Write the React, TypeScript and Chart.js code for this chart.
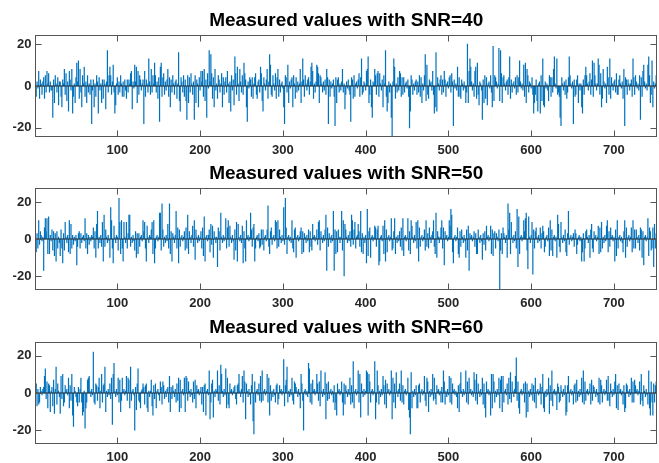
import React, { useEffect, useRef } from "react";
import { Chart, registerables } from "chart.js";

Chart.register(...registerables);

const titles = [
  "Measured values with SNR=40",
  "Measured values with SNR=50",
  "Measured values with SNR=60",
];
const xTickValues = [100, 200, 300, 400, 500, 600, 700];
const yTickValues = [-20, 0, 20];
const yLimits = [24.4, 27.6, 27.5];

const snr40 = [
  3, -5, 2, -1, 7, -6, 3, 1, -4, 2,
  4, -6, 5, -3, 7, 1, 6, -3, 2, -2,
  -2, -15, 3, -8, 5, 1, -3, 4, -9, 2,
  2, -5, -10, 3, 1, 8, -4, 6, -7, 2,
  -12, 7, 3, -2, 8, -13, -5, 1, -8, 4,
  11, 2, 12, -6, 8, -3, -10, 5, 1, 9,
  -5, 2, -8, 5, -3, 1, -4, 3, -18, -2,
  3, -10, 1, -5, 5, 2, -13, 4, -2, 1,
  -8, 3, -6, 3, 1, -11, 2, 17, -3, 5,
  9, 5, -4, 2, 10, -3, -13, -9, 1, 4,
  -4, 2, -3, 5, 1, -5, 2, -5, 3, -2,
  -6, 3, -3, 3, 1, 6, 7, -11, 2, -1,
  10, 2, 9, -8, 7, -4, 5, 3, -2, 1,
  3, -18, 7, -5, 3, 1, -3, 13, 2, -4,
  8, -3, 5, 1, 11, 5, -3, 2, -6, 4,
  -17, 9, 11, -5, 4, 6, -4, 2, -2, 3,
  8, -5, 4, -10, 3, -3, 5, 1, -4, 2,
  3, -6, 1, 16, -7, -12, 4, 2, -3, 5,
  -5, 3, -7, -16, 5, -8, 4, -3, 6, 1,
  -4, 2, -16, 5, -8, 3, 1, -10, 4, -2,
  7, 2, 7, -5, 8, -7, 3, -15, 6, -1,
  17, 2, 15, 6, -6, 4, -10, 8, -2, 1,
  -6, 5, 3, -3, 1, 6, -10, 4, -4, 2,
  4, -3, 7, 1, -8, 2, -12, 5, -2, 3,
  -9, 14, 6, -4, 9, 1, -7, 8, 2, -3,
  5, -4, 11, 6, 3, -10, -17, 2, -1, 4,
  3, -5, 4, -6, 1, 4, 6, -4, -6, 2,
  3, -3, 9, 6, -7, -12, 4, 1, -2, 3,
  8, -6, 2, 15, 10, -4, -5, 5, 1, -2,
  6, -6, 4, 8, -5, 3, -3, 1, 2, -1,
  -10, -18, 5, 4, -3, 10, -8, 2, -1, 3,
  4, -10, 5, 1, -6, 4, -3, 2, -2, 1,
  8, -8, 2, 13, 3, -5, 5, 1, -2, 3,
  4, -4, 2, 9, 11, 7, -6, 1, -3, 2,
  10, 9, 6, -8, 5, 4, 1, -3, 2, -2,
  3, -4, 8, 4, -18, 3, -5, 2, -1, 1,
  3, -5, -19, 4, -8, 3, 4, -3, 1, -2,
  2, 8, -3, 1, -11, -4, 2, -1, 3, -2,
  -4, -17, 4, 3, -6, 5, -5, 1, 2, -1,
  3, 6, -5, 4, 13, -4, -3, 2, 1, -2,
  7, 8, 14, -8, -4, 3, -10, -15, 2, 1,
  8, 5, -4, 6, 7, -5, 6, 1, -2, 3,
  -10, 5, 1, 17, -5, -12, -8, 2, -3, 1,
  -15, -24.4, 2, 13, 9, -6, 1, -3, 4, -2,
  7, 6, -5, 4, -4, 4, -3, 1, 2, -1,
  3, -5, -20, -12, 5, 3, -4, 1, -2, 2,
  3, -4, 2, -3, 5, -5, 4, -8, 1, -2,
  5, 15, -7, 10, -4, -6, 3, 1, 2, -2,
  7, -4, -13, -10, 16, -12, 4, 1, -2, 3,
  5, -4, 3, -3, 7, 3, -5, 1, 2, -1,
  4, 5, -3, 6, 2, -19, 3, -1, 1, -2,
  9, -5, 4, -5, -6, 3, 1, -2, 2, -1,
  -8, -3, 20, -8, 7, 13, 9, 2, -2, 1,
  -5, 7, 9, -6, 11, -4, -9, 2, 1, -2,
  -16, 3, -8, 5, -6, 4, -9, 1, 2, -1,
  5, -3, -10, 19, -7, 5, 4, 2, -1, 1,
  18, -7, 17, 6, -8, 4, 5, 1, -2, 2,
  3, -4, 4, 14, -6, 3, -3, 1, 2, -1,
  4, -4, 5, -3, 4, 12, 2, -1, 1, -2,
  10, -5, 11, -8, 8, 5, -3, 2, 1, -1,
  4, -4, -13, -8, -4, 3, -7, -12, 1, 2,
  -13, 5, -7, 13, -9, -10, 2, -1, 1, -2,
  -7, 5, 4, -5, 4, -3, 8, 14, 1, -1,
  13, -4, -3, -5, -15, -19, 4, 1, -2, 2,
  -4, 3, -6, -3, 4, 14, 5, 1, -1, 2,
  -18, 3, -5, -4, 3, 5, -8, 1, -2, 1,
  -10, -13, 3, -4, 5, 9, 5, 1, -2, 2,
  6, -4, 3, 12, -5, 11, 5, 1, -2, 1,
  13, 10, -4, 6, -10, -6, 8, 2, -1, 1,
  -8, 9, 4, -4, 13, -6, 4, 1, -2, 2,
  3, -3, 6, -4, -4, 3, 5, 1, -1, 2,
  -6, 8, -19, 4, 3, -4, 3, 1, -2, 1,
  3, -5, 13, 4, -4, 5, 2, -1, 1, -2,
  5, -16, 4, -5, 7, 10, 2, -1, 1, -2,
  10, 14, 5, -8, -4, 12, -10, 2, -1, 1,
  5, -7,
];

const snr50 = [
  -10, -7, 3, -5, 10, -3, 4, 2, -1, 1,
  -17, 6, 11, 4, 11, -8, 12, -8, 2, -1,
  5, -6, 4, -9, 3, -12, 4, -5, 1, -2,
  -9, 5, -5, -13, 3, -6, 9, 1, -2, 2,
  -7, 10, -8, 8, -5, 2, -3, 1, -1, 2,
  -14, -4, 3, 4, -5, 3, -2, 1, 2, -1,
  11, -5, 3, -8, 2, -3, 1, -1, 2, 1,
  6, -5, 4, -10, 8, 15, -5, 1, -2, 2,
  -4, 9, -12, 13, -4, 5, 1, -2, 2, -1,
  -10, 17, 10, -5, -13, 7, 1, -2, 2, 1,
  -6, 22, 9, -8, 10, -5, -12, 9, 1, -2,
  9, -5, 3, 13, 13, -4, 1, -2, 2, -1,
  -6, 4, -10, 3, -8, 3, -4, 1, 2, -1,
  10, 4, 9, -5, -12, 7, 1, -2, 2, 1,
  5, 9, -8, 10, -13, -5, 1, 2, -1, 1,
  14, 14, -6, 19, 5, -4, 1, -2, 2, -1,
  8, -5, 19, -8, 4, -12, 3, 1, -2, 2,
  15, -5, 6, -13, 5, -4, 1, 2, -1, 1,
  4, -6, 6, -5, 13, -8, 4, 1, -2, 2,
  7, -4, 10, -11, 5, 1, -2, 2, -1, 1,
  4, -5, 6, -9, 12, -12, 1, 2, -1, 2,
  5, -7, 8, -3, 7, -10, 4, 1, -2, 1,
  -15, 6, 4, -6, 14, 1, -2, 2, -1, 1,
  11, -5, 6, 10, -4, 7, 1, -2, 2, -1,
  -11, 5, -6, 9, -12, 8, 1, -1, 2, -2,
  7, -13, 4, -5, -12, 10, 1, 2, -1, 1,
  14, 5, -4, 6, 8, -12, -5, 1, 2, -1,
  3, -5, -4, 5, -3, 5, -6, 1, 2, -1,
  5, 18, -4, -8, 4, 6, -3, 1, 2, -1,
  10, 9, -5, 10, -4, 5, 1, -2, 2, -1,
  17, -3, 22, 6, -8, 1, 2, -1, 1, -2,
  10, -5, -7, 5, 6, -10, 1, 2, -1, 1,
  4, 6, -8, 4, -7, 3, 1, -2, 2, -1,
  5, -7, 4, -4, -6, 8, 1, 2, -1, 1,
  5, -3, 9, 10, -6, 4, 1, -2, 2, -1,
  5, 13, -17, 6, -4, 3, 1, -2, 2, -1,
  15, -17, 5, -8, 4, -7, 5, 1, -2, 1,
  15, -6, 10, -20, 8, 5, 1, -2, 2, -1,
  4, -4, 13, 10, -3, 5, 9, -5, 1, 2,
  8, 4, -4, 15, -7, 3, -8, 1, -2, 2,
  -13, 16, -9, 4, 6, -10, 1, 2, -1, 1,
  7, 6, -4, 5, 7, -14, -12, 1, 2, -1,
  7, -8, 10, -12, 5, -7, 1, 2, -1, 1,
  11, -6, -5, 4, 11, -8, 1, -2, 2, -1,
  4, -4, 6, -6, 11, -9, 1, 2, -1, 1,
  11, -6, 4, -8, 10, 7, 1, -2, 2, -1,
  9, -5, 10, -12, 6, -4, 1, 2, -1, 1,
  5, -6, 10, -4, 3, -5, 6, 1, -2, 2,
  4, 10, -4, -8, 14, -10, 4, 1, -2, 1,
  6, 10, -5, 6, -14, 4, 1, 2, -1, 1,
  10, 7, 16, 13, -7, -13, 1, 2, -1, 1,
  6, -8, -10, 4, -4, 5, 1, -2, 2, -1,
  -10, 5, -6, 7, -17, 3, 1, 2, -1, 1,
  4, -4, 3, -8, -8, 5, 1, -2, 2, -1,
  -11, 3, -3, 4, -6, 7, 1, 2, -1, 1,
  7, -8, 5, -9, 3, 4, -5, 3, 1, -1,
  5, -27.5, -6, 3, -8, 6, 3, 1, -2, 2,
  -10, 19, 5, 14, -8, 9, 1, -2, 2, -1,
  4, -5, 16, -15, 12, -8, 1, 2, -1, 1,
  10, 4, 11, 14, -6, -16, 12, 1, -2, 2,
  9, -19, 5, -5, 4, 6, 1, -2, 2, -1,
  6, -5, 3, 7, 4, -7, -4, 1, 2, -1,
  6, -9, 10, -6, 5, -9, 1, 2, -1, 1,
  -10, 13, 8, -4, -7, 9, 1, -2, 2, -1,
  5, -7, -9, 3, 15, -3, 1, 2, -1, 1,
  3, -4, 5, 3, -8, -3, 1, 2, -1, 1,
  -12, -7, 3, -12, -5, 4, 5, 1, -2, 2,
  -10, 5, 8, -5, -7, 4, 1, 2, -1, 1,
  7, -8, 6, -7, 9, -5, 1, -2, 2, -1,
  7, 10, -7, 4, -4, 6, 1, 2, -1, 1,
  -12, 5, -9, 10, -5, 1, 2, -1, 1, -2,
  -7, 4, 10, -10, 6, -4, 1, 2, -1, 1,
  6, -7, 10, -5, 5, -5, 5, 1, -2, 2,
  -6, 6, 5, -10, 4, -14, 1, 2, -1, 1,
  11, -9, 6, 4, -6, -5, 6, -15, 8, -5,
  3, -2,
];

const snr60 = [
  14, 5, -7, 2, -6, -5, 3, 1, -1, 2,
  3, 9, 13, -3, 6, -8, 5, 4, -10, 1,
  3, -7, 7, -11, 2, 14, -6, 5, 1, -2,
  -11, 9, -3, 10, -7, -5, 4, 1, 2, -1,
  8, -8, 4, -4, 10, -12, -18, 3, 1, -2,
  -5, -7, 3, -5, 2, 8, -5, -12, -10, 1,
  -19, -8, -5, 7, 8, 9, 1, -2, 2, -1,
  22, -5, -6, 5, 4, -4, 3, 8, -8, 1,
  10, -5, 4, 5, 14, -10, 1, -2, 2, -1,
  5, -3, 8, -17, 10, 16, 1, -2, 2, -1,
  8, -5, 7, -10, -4, 8, 1, 2, -1, 1,
  9, -4, 8, 7, -8, 14, -4, 1, 2, -1,
  -20, 3, -9, 5, 13, -4, -5, -8, 1, 2,
  5, 3, -6, 4, 5, -8, -10, 1, -2, 1,
  7, -7, -12, 4, -3, 5, -8, 1, 2, -1,
  -4, 6, 3, -6, 6, 4, -3, 1, -2, 2,
  3, -5, 9, -10, 3, -3, 4, 1, -2, 2,
  -5, 5, -4, 8, -10, 7, -8, 1, 2, -1,
  8, -10, 9, 8, -4, 6, 1, -2, 2, -1,
  -5, 6, -3, 7, -8, 4, 1, 2, -1, 1,
  3, -6, 3, -10, 4, 5, -12, 1, 2, -1,
  12, -14, -5, 5, 7, -13, 1, -2, 2, 1,
  12, -4, 4, -6, 15, 10, 1, -2, 2, -1,
  13, -8, 8, -6, -8, 5, 1, 2, -1, 1,
  3, 4, -3, -6, 4, 5, 10, 1, -2, 2,
  9, -5, 12, 6, -14, 5, 1, -2, 2, -1,
  -6, 4, 10, -15, -22, 6, -5, 1, 2, -1,
  5, -4, 9, -5, 12, -4, 1, 2, -1, 1,
  10, -5, 8, -12, 4, -4, 1, -2, 2, -1,
  -5, 4, 5, -6, -3, 4, 1, 2, -1, 1,
  18, -7, 4, 7, 14, -5, 1, -2, 2, -1,
  8, -4, -6, 6, 5, 3, 1, -2, 2, -1,
  -8, 10, 5, -4, -20, 1, 2, -1, 1, -2,
  16, 13, -5, 5, -6, 7, 1, 2, -1, 1,
  10, 5, -4, 6, -7, 12, 1, -2, 2, -1,
  11, -14, 5, -4, 6, -3, 1, 2, -1, 1,
  -5, 4, -9, -5, -12, 5, 1, 2, -1, 1,
  6, -5, -12, 5, -6, 4, 1, -2, 2, -1,
  8, -6, 4, -5, 17, -8, 1, 2, -1, 1,
  12, -5, 10, -13, 5, 1, -2, 2, -1, 1,
  12, 11, -12, 10, 6, -5, 1, 2, -1, 1,
  17, -14, -5, 12, 4, -6, 1, -2, 2, -1,
  9, 4, -6, 7, -8, 5, 1, 2, -1, 1,
  12, -14, 8, -5, 5, -8, 11, 1, -2, 2,
  5, -4, 12, -5, 4, -6, 1, 2, -1, 1,
  8, -9, -13, -22, 11, -8, 1, -2, 2, -1,
  4, -8, -8, 4, 5, -5, 1, 2, -1, 1,
  9, -4, -7, 8, 6, -10, 1, -2, 2, -1,
  10, -4, 8, -3, -6, 4, 1, 2, -1, 1,
  -5, 3, -5, 12, 6, -6, 1, -2, 2, -1,
  9, -5, 8, -6, 5, 1, 2, -1, 1, -2,
  -8, 4, -10, 5, 11, 1, -2, 2, -1, 1,
  12, -5, 6, -6, 8, 1, 2, -1, 1, -2,
  11, 7, -4, 10, -6, 5, 1, -2, 2, -1,
  8, -6, 5, -8, -13, 6, 1, 2, -1, 1,
  -12, 10, -8, 10, 6, -5, 1, -2, 2, -1,
  8, -8, 7, 9, -10, 9, -5, 1, 2, -1,
  5, -6, 8, -3, 11, -5, 6, 1, -2, 2,
  9, 19, -4, 6, -8, -11, 1, 2, -1, 1,
  5, -5, 6, -13, 5, -10, 1, -2, 2, -1,
  5, -4, 4, -5, 8, -8, 1, 2, -1, 1,
  5, -6, 3, 10, -8, -10, 1, -2, 2, -1,
  8, -11, 4, -4, 12, -7, 1, 2, -1, 1,
  -9, 5, 3, -5, -4, 4, 1, -2, 2, -1,
  4, -12, -10, 4, 9, -5, 1, 2, -1, 1,
  -6, 4, 5, -5, 7, -4, 1, -2, 2, -1,
  8, -5, 12, -6, 6, -4, 1, 2, -1, 1,
  5, -6, 7, -4, 4, 3, 1, -2, 2, -1,
  -5, 8, -6, 7, 4, -5, 1, 2, -1, 1,
  7, -4, 9, -4, -7, 5, 1, -2, 2, -1,
  6, 10, -8, 4, -9, 5, 1, 2, -1, 1,
  -6, 4, -10, -8, 5, 4, 1, -2, 2, -1,
  8, -5, 6, -5, 7, 4, 1, 2, -1, 1,
  6, -6, 10, -4, -7, 4, 1, -2, 2, -1,
  -6, 12, -8, -12, 6, -5, -12, 5, -5, 4,
  6, -3,
];

const seriesList = [snr40, snr50, snr60];

const FONT = "'Liberation Sans', Arial, Helvetica, sans-serif";
const CANVAS_W = 659;
const CANVAS_H = 175;
const canvasTops = [0, 153, 307];

const framePlugin = {
  id: "matlabFrame",
  afterDatasetsDraw(chart: any) {
    const { ctx, chartArea, scales } = chart;
    const { left, right, top, bottom } = chartArea;
    const title = chart.options.plugins.matlabFrame.title;
    ctx.save();
    // baseline at zero
    const y0 = scales.y.getPixelForValue(0);
    ctx.strokeStyle = "rgba(38,38,38,0.9)";
    ctx.lineWidth = 1;
    ctx.beginPath();
    ctx.moveTo(left, y0);
    ctx.lineTo(right, y0);
    ctx.stroke();
    // box
    ctx.strokeStyle = "#555555";
    ctx.lineWidth = 1;
    const L = Math.round(left) + 0.5;
    const R = Math.round(right) - 0.5;
    const T = Math.round(top) + 0.5;
    const B = Math.round(bottom) - 0.5;
    ctx.strokeRect(L, T, R - L, B - T);
    // inward ticks
    const tl = 6;
    ctx.beginPath();
    for (const v of xTickValues) {
      const x = Math.round(scales.x.getPixelForValue(v)) + 0.5;
      ctx.moveTo(x, B);
      ctx.lineTo(x, B - tl);
      ctx.moveTo(x, T);
      ctx.lineTo(x, T + tl);
    }
    for (const v of yTickValues) {
      const y = Math.round(scales.y.getPixelForValue(v)) + 0.5;
      ctx.moveTo(L, y);
      ctx.lineTo(L + tl, y);
      ctx.moveTo(R, y);
      ctx.lineTo(R - tl, y);
    }
    ctx.stroke();
    // title
    ctx.fillStyle = "#000000";
    ctx.font = `bold 19px ${FONT}`;
    ctx.textAlign = "center";
    ctx.textBaseline = "middle";
    ctx.fillText(title, (left + right) / 2, top - 14);
    ctx.restore();
  },
};

function StemPanel({ index }: { index: number }) {
  const ref = useRef<HTMLCanvasElement | null>(null);
  useEffect(() => {
    if (!ref.current) return;
    const values = seriesList[index];
    const n = values.length;
    const lim = yLimits[index];
    const tickFont = { family: FONT, size: 13, weight: "bold" as const };
    const chart = new Chart(ref.current, {
      type: "bar",
      data: {
        datasets: [
          {
            data: values.map((v, i) => ({ x: i + 1, y: v })),
            backgroundColor: "#0072BD",
            borderWidth: 0,
            barThickness: 0.55,
          } as any,
        ],
      },
      options: {
        animation: false,
        responsive: false,
        maintainAspectRatio: false,
        devicePixelRatio: 1,
        layout: { padding: { left: 0, right: 2, top: 35, bottom: 0 } },
        plugins: {
          legend: { display: false },
          tooltip: { enabled: false },
          title: { display: false },
          matlabFrame: { title: titles[index] },
        } as any,
        scales: {
          x: {
            type: "linear",
            min: 1,
            max: n,
            offset: false,
            grid: { display: false, drawTicks: false },
            border: { display: false },
            ticks: {
              padding: 5.5,
              font: tickFont,
              color: "#262626",
              maxRotation: 0,
              autoSkip: false,
            },
            afterBuildTicks: (s: any) => {
              s.ticks = xTickValues.map((v) => ({ value: v }));
            },
            afterFit: (s: any) => {
              s.height = 38;
            },
          },
          y: {
            type: "linear",
            min: -lim,
            max: lim,
            grid: { display: false, drawTicks: false },
            border: { display: false },
            ticks: { padding: 4, font: tickFont, color: "#262626" },
            afterBuildTicks: (s: any) => {
              s.ticks = yTickValues.map((v) => ({ value: v }));
            },
            afterFit: (s: any) => {
              s.width = 35.4;
            },
          },
        },
      } as any,
      plugins: [framePlugin],
    });
    return () => chart.destroy();
  }, [index]);
  return (
    <canvas
      ref={ref}
      width={CANVAS_W}
      height={CANVAS_H}
      style={{
        position: "absolute",
        left: 0,
        top: canvasTops[index],
        width: CANVAS_W,
        height: CANVAS_H,
      }}
    />
  );
}

export default function App() {
  return (
    <div
      style={{
        position: "fixed",
        left: 0,
        top: 0,
        width: 659,
        height: 463,
        overflow: "hidden",
        background: "#ffffff",
      }}
    >
      <StemPanel index={0} />
      <StemPanel index={1} />
      <StemPanel index={2} />
    </div>
  );
}
